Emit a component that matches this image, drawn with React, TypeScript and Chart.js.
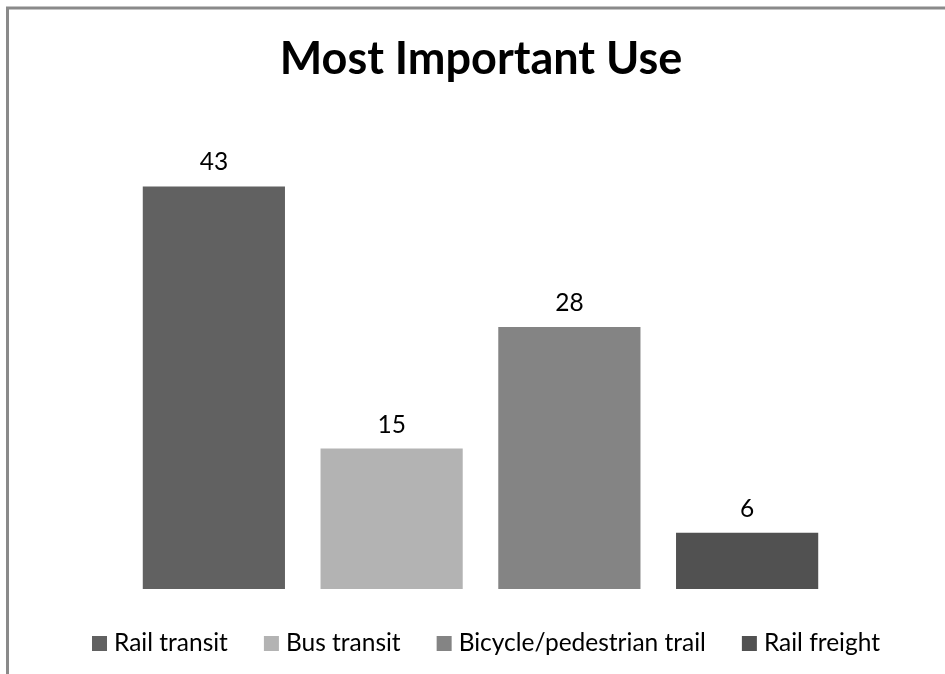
import React, { useEffect, useRef } from "react";
import { Chart, registerables } from "chart.js";

Chart.register(...registerables);

const TITLE = "Most Important Use";
const categories = ["Rail transit", "Bus transit", "Bicycle/pedestrian trail", "Rail freight"];
const values = [43, 15, 28, 6];
const colors = ["#616161", "#b3b3b3", "#848484", "#515151"];
const Y_MAX = 50;

const FONT = "Lato, 'Open Sans', sans-serif";

const framePlugin = {
  id: "frame",
  beforeDraw(chart: any) {
    const { ctx, width, height } = chart;
    ctx.save();
    ctx.fillStyle = "#ffffff";
    ctx.fillRect(0, 0, width, height);
    ctx.strokeStyle = "#8a8a8a";
    ctx.lineWidth = 3;
    ctx.beginPath();
    ctx.moveTo(7.5, height + 2);
    ctx.lineTo(7.5, 8);
    ctx.lineTo(width + 2, 8);
    ctx.stroke();
    ctx.restore();
  },
};

const labelsPlugin = {
  id: "valueLabels",
  afterDatasetsDraw(chart: any) {
    const { ctx } = chart;
    const meta = chart.getDatasetMeta(0);
    ctx.save();
    ctx.fillStyle = "#000000";
    ctx.font = `24.5px ${FONT}`;
    ctx.textAlign = "center";
    ctx.textBaseline = "middle";
    meta.data.forEach((bar: any, i: number) => {
      ctx.fillText(String(values[i]), bar.x, bar.y - 24);
    });
    ctx.restore();
  },
};

const titleLegendPlugin = {
  id: "titleLegend",
  afterDraw(chart: any) {
    const { ctx } = chart;
    ctx.save();
    // title
    ctx.fillStyle = "#000000";
    ctx.font = `bold 45px ${FONT}`;
    ctx.textAlign = "center";
    ctx.textBaseline = "alphabetic";
    ctx.fillText(TITLE, 481, 74);
    // legend
    ctx.font = `24.5px ${FONT}`;
    const box = 15;
    const gapBoxText = 7;
    const gapItems = 36;
    const widths = categories.map((c) => box + gapBoxText + ctx.measureText(c).width);
    const total = widths.reduce((a, b) => a + b, 0) + gapItems * (categories.length - 1);
    let x = 486 - total / 2;
    const cy = 643;
    ctx.textAlign = "left";
    ctx.textBaseline = "middle";
    categories.forEach((c, i) => {
      ctx.fillStyle = colors[i];
      ctx.fillRect(x, cy - 7, box, box);
      ctx.fillStyle = "#000000";
      ctx.fillText(c, x + box + gapBoxText, cy);
      x += widths[i] + gapItems;
    });
    ctx.restore();
  },
};

export default function App() {
  const ref = useRef<HTMLCanvasElement>(null);
  useEffect(() => {
    if (!ref.current) return;
    const chart = new Chart(ref.current, {
      type: "bar",
      data: {
        labels: categories,
        datasets: [
          {
            data: values,
            backgroundColor: colors,
            borderWidth: 0,
            categoryPercentage: 0.8,
            barPercentage: 1,
          },
        ],
      },
      options: {
        responsive: false,
        animation: false,
        layout: { padding: { left: 125, right: 109, top: 121, bottom: 85 } },
        plugins: {
          legend: { display: false },
          title: { display: false },
          tooltip: { enabled: false },
        },
        scales: {
          x: { display: false },
          y: { display: false, min: 0, max: Y_MAX },
        },
      },
      plugins: [framePlugin, labelsPlugin, titleLegendPlugin],
    });
    return () => chart.destroy();
  }, []);
  return (
    <div style={{ position: "fixed", left: 0, top: 0, width: 945, height: 674 }}>
      <canvas ref={ref} width={945} height={674} style={{ width: 945, height: 674 }} />
    </div>
  );
}
